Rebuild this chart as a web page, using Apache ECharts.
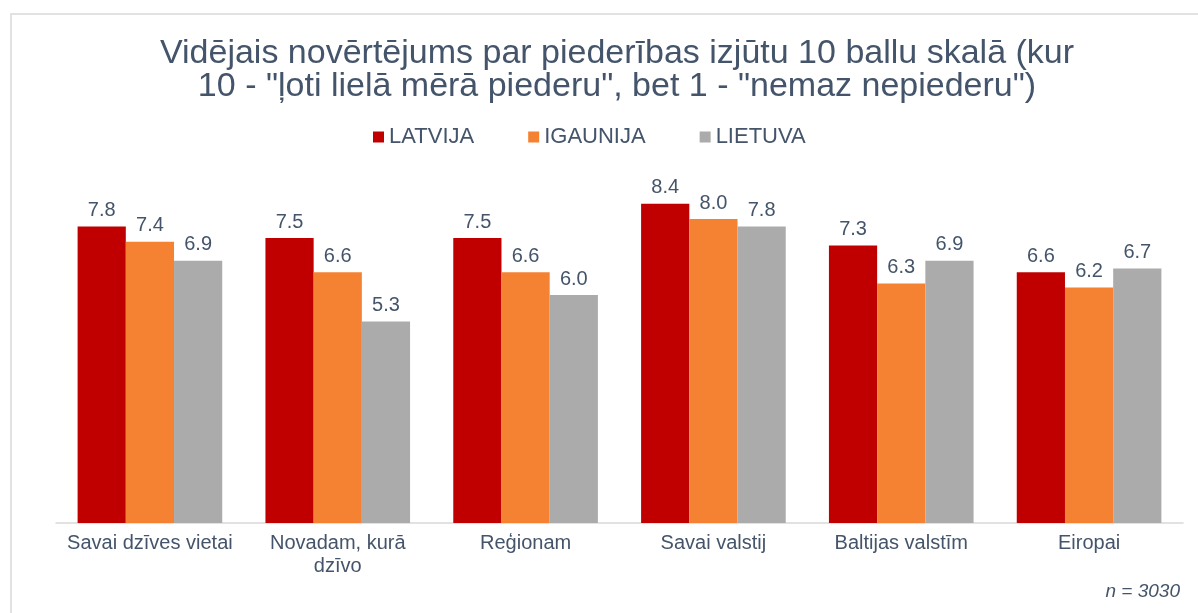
<!DOCTYPE html>
<html>
<head>
<meta charset="utf-8">
<script src="https://cdn.jsdelivr.net/npm/echarts@6/dist/echarts.min.js"></script>
<style>
  html, body { margin: 0; padding: 0; background: #fff; }
  #chart { width: 1198px; height: 613px; }
</style>
</head>
<body>
<div id="chart"></div>
<script>
// kategorijas un vērtības
const categories = ['Savai dzīves vietai', 'Novadam, kurā\ndzīvo', 'Reģionam', 'Savai valstij', 'Baltijas valstīm', 'Eiropai']
const seriesNames = ['LATVIJA', 'IGAUNIJA', 'LIETUVA']
const latvija = [7.8, 7.5, 7.5, 8.4, 7.3, 6.6]
const igaunija = [7.4, 6.6, 6.6, 8.0, 6.3, 6.2]
const lietuva = [6.9, 5.3, 6.0, 7.8, 6.9, 6.7]
const colors = ['#C00000', '#F58232', '#ABABAB']

const textColor = '#44546A'
const font = 'Liberation Sans, Arial, sans-serif'

let myChart = echarts.init(document.getElementById('chart'))

function makeSeries(name, data, color) {
    return {
        name: name,
        type: 'bar',
        data: data,
        barGap: '0%',
        barCategoryGap: '23%',
        itemStyle: { color: color },
        label: {
            show: true,
            position: 'top',
            distance: 6,
            color: textColor,
            fontSize: 20,
            fontFamily: font,
            formatter: p => p.value.toFixed(1)
        }
    }
}

let option = {
    backgroundColor: '#fff',
    animation: false,
    title: {
        text: 'Vidējais novērtējums par piederības izjūtu 10 ballu skalā (kur\n10 - "ļoti lielā mērā piederu", bet 1 - "nemaz nepiederu")',
        left: 612,
        top: 32,
        textAlign: 'center',
        textStyle: {
            color: textColor,
            fontSize: 34,
            fontWeight: 'normal',
            fontFamily: font,
            lineHeight: 33
        }
    },
    legend: {
        data: seriesNames,
        left: 368,
        top: 121,
        itemWidth: 11,
        itemHeight: 11,
        itemGap: 54,
        icon: 'rect',
        textStyle: { color: textColor, fontSize: 22, fontFamily: font }
    },
    grid: {
        left: 56,
        right: 15,
        top: 143,
        bottom: 90
    },
    xAxis: {
        type: 'category',
        data: categories,
        axisLine: { lineStyle: { color: '#D9D9D9', width: 1.5 } },
        axisTick: { show: false },
        axisLabel: {
            color: textColor,
            fontSize: 20,
            fontFamily: font,
            margin: 9,
            lineHeight: 23,
            interval: 0
        }
    },
    yAxis: {
        type: 'value',
        min: 0,
        max: 10,
        show: false,
        splitLine: { show: false }
    },
    graphic: [
        {
            type: 'rect',
            shape: { x: 11, y: 14, width: 1400, height: 800 },
            style: { fill: 'none', stroke: '#D9D9D9', lineWidth: 1.5 },
            silent: true
        },
        {
            type: 'text',
            right: 18,
            top: 582,
            style: {
                text: 'n = 3030',
                fill: textColor,
                fontSize: 19,
                fontStyle: 'italic',
                fontFamily: font
            }
        }
    ],
    series: [
        makeSeries(seriesNames[0], latvija, colors[0]),
        makeSeries(seriesNames[1], igaunija, colors[1]),
        makeSeries(seriesNames[2], lietuva, colors[2])
    ]
}

option && myChart.setOption(option)
</script>
</body>
</html>
